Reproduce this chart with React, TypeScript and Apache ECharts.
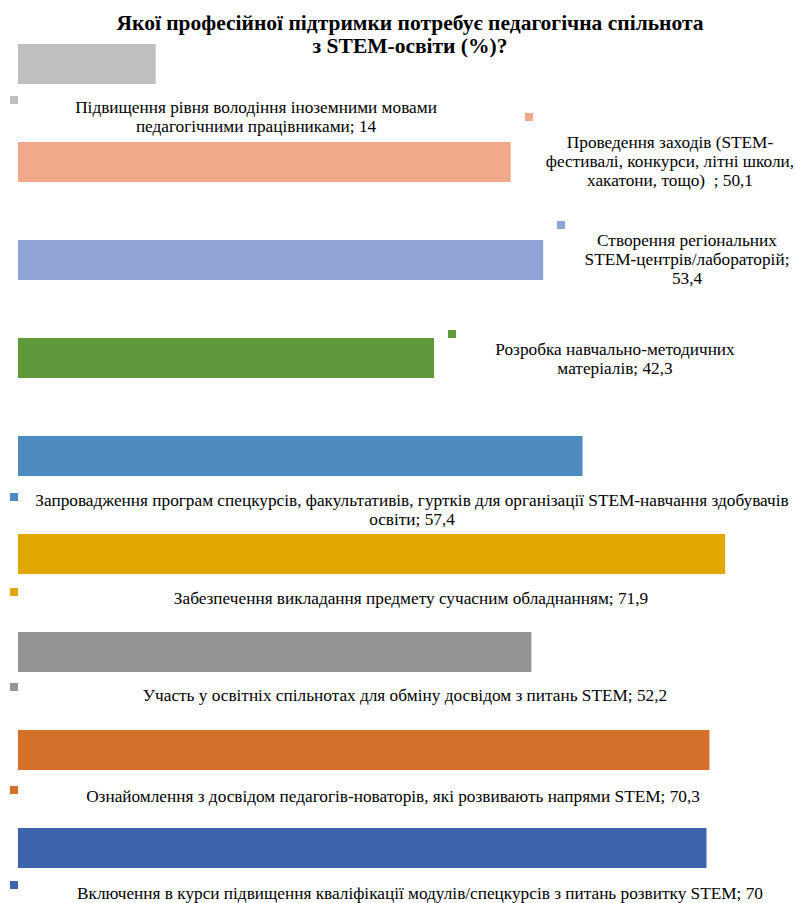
import React, { useEffect, useRef } from "react";
import * as echarts from "echarts";

const categories = [
  "Підвищення рівня володіння іноземними мовами\nпедагогічними працівниками",
  "Проведення заходів (STEM-\nфестивалі, конкурси, літні школи,\nхакатони, тощо)  ",
  "Створення регіональних\nSTEM-центрів/лабораторій;\n",
  "Розробка навчально-методичних\nматеріалів",
  "Запровадження програм спецкурсів, факультативів, гуртків для організації STEM-навчання здобувачів\nосвіти",
  "Забезпечення викладання предмету сучасним обладнанням",
  "Участь у освітніх спільнотах для обміну досвідом з питань STEM",
  "Ознайомлення з досвідом педагогів-новаторів, які розвивають напрями STEM",
  "Включення в курси підвищення кваліфікації модулів/спецкурсів з питань розвитку STEM",
];
const values = [14, 50.1, 53.4, 42.3, 57.4, 71.9, 52.2, 70.3, 70];
const colors = [
  "#BFBFBF",
  "#F1A98B",
  "#8FA3D5",
  "#5E9A3C",
  "#4E8AC0",
  "#E0A800",
  "#949494",
  "#D3702A",
  "#3C63AC",
];

// label layout: marker x,y ; text center x, top y
const labelLayout = [
  { mx: 10, my: 96, tx: 256, ty: 98 },
  { mx: 525, my: 113, tx: 670, ty: 133 },
  { mx: 557, my: 221, tx: 687, ty: 231 },
  { mx: 448, my: 330, tx: 615, ty: 340 },
  { mx: 10, my: 493, tx: 412, ty: 491 },
  { mx: 10, my: 588, tx: 411, ty: 589 },
  { mx: 10, my: 683, tx: 405, ty: 686 },
  { mx: 10, my: 786, tx: 393, ty: 787 },
  { mx: 10, my: 881, tx: 420, ty: 884 },
];

function fmt(v: number) {
  return String(v).replace(".", ",");
}

export default function App() {
  const ref = useRef<HTMLDivElement>(null);
  useEffect(() => {
    const chart = echarts.init(ref.current!, null, { renderer: "svg" });
    const font = "Liberation Serif";
    const graphics: any[] = [];
    categories.forEach((c, i) => {
      const L = labelLayout[i];
      const text = c.endsWith("\n") ? c + fmt(values[i]) : c + "; " + fmt(values[i]);
      graphics.push({
        type: "rect",
        left: L.mx,
        top: L.my,
        shape: { width: 8, height: 8 },
        style: { fill: colors[i] },
      });
      graphics.push({
        type: "text",
        x: L.tx,
        y: L.ty,
        style: {
          text,
          fontFamily: font,
          fontSize: 17.25,
          fill: "#000",
          align: "center",
          verticalAlign: "top",
          lineHeight: 19,
        },
      });
    });
    chart.setOption({
      animation: false,
      backgroundColor: "#fff",
      title: {
        text: "Якої професійної підтримки потребує педагогічна спільнота\nз STEM-освіти (%)?",
        left: 410,
        top: 11,
        padding: 0,
        textAlign: "center",
        textStyle: {
          fontFamily: font,
          fontWeight: "bold",
          fontSize: 21.5,
          lineHeight: 23,
          color: "#000",
        },
      },
      grid: { left: 18, right: 0, top: 15, height: 882, containLabel: false },
      xAxis: {
        type: "value",
        min: 0,
        max: 79,
        show: false,
      },
      yAxis: {
        type: "category",
        inverse: true,
        data: categories,
        show: false,
      },
      series: [
        {
          type: "bar",
          barWidth: 40,
          data: values.map((v, i) => ({ value: v, itemStyle: { color: colors[i] } })),
        },
      ],
      graphic: graphics,
    });
    return () => chart.dispose();
  }, []);
  return <div ref={ref} style={{ width: 795, height: 903, position: "absolute", left: 0, top: 0 }} />;
}
